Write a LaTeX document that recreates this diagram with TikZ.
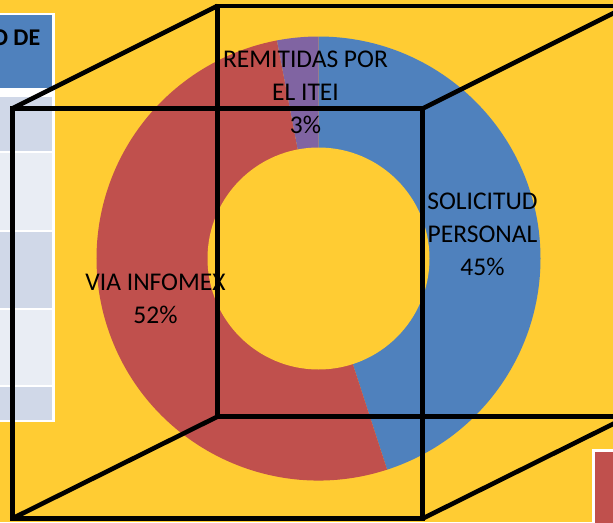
\documentclass[tikz,border=0pt]{standalone}
\usepackage{fontspec}
\setmainfont{Carlito}
\definecolor{bgyellow}{HTML}{FFCC33}
\definecolor{pieblue}{HTML}{4F81BD}
\definecolor{piered}{HTML}{C0504D}
\definecolor{piepurple}{HTML}{8064A2}
\definecolor{rowdark}{HTML}{D0D8E8}
\definecolor{rowlight}{HTML}{E9EDF4}
\begin{document}
\begin{tikzpicture}[x=1pt,y=-1pt,
  cubeline/.style={line width=4.6pt, black, line join=miter},
  lbl/.style={font=\fontsize{25.5}{33}\selectfont, align=center, inner sep=0pt, text=black}]
\useasboundingbox (0,0) rectangle (613,522);
\clip (0,0) rectangle (613,522);
\fill[bgyellow] (0,0) rectangle (613,522);
% table fragment
\fill[white] (-5,13) rectangle (54.5,422);
\fill[pieblue] (-5,15) rectangle (52,88);
\fill[rowdark] (-5,97) rectangle (52,150.5);
\fill[rowlight] (-5,152.5) rectangle (52,229.5);
\fill[rowdark] (-5,231.5) rectangle (52,307.5);
\fill[rowlight] (-5,309.5) rectangle (52,384.5);
\fill[rowdark] (-5,386.5) rectangle (52,420);
\node[lbl, font=\fontsize{24}{33}\selectfont\bfseries, anchor=base east] (hdr) at (40.5,45) {O DE};
% legend fragment
\fill[white] (592,449) rectangle (620,530);
\fill[piered] (595,452) rectangle (620,530);
% donut
\coordinate (c) at (318.5,258.5);
\fill[pieblue] (c) -- +(-90:222) arc[start angle=-90, end angle=72, radius=222] -- cycle;
\fill[piered] (c) -- +(72:222) arc[start angle=72, end angle=259.2, radius=222] -- cycle;
\fill[piepurple] (c) -- +(259.2:222) arc[start angle=259.2, end angle=270, radius=222] -- cycle;
\fill[bgyellow] (c) circle[radius=111];
% labels (base anchor = baseline of last line)
\node[lbl, anchor=base] (rem) at (305.5,133) {REMITIDAS POR\\EL ITEI\\3\%};
\node[lbl, anchor=base] (sol) at (482.5,275) {SOLICITUD\\PERSONAL\\45\%};
\node[lbl, anchor=base] (via) at (155.5,323) {VIA INFOMEX\\52\%};
% cube
\coordinate (f1) at (12.3,108.5);
\coordinate (f2) at (422.7,108.5);
\coordinate (f3) at (422.7,518.5);
\coordinate (f4) at (12.3,518.5);
\coordinate (b1) at (217.3,6);
\coordinate (b2) at (627.7,6);
\coordinate (b3) at (627.7,416.7);
\coordinate (b4) at (217.3,416.7);
\draw[cubeline] (f1) -- (f2) -- (f3) -- (f4) -- cycle;
\draw[cubeline] (b1) -- (b2) -- (b3) -- (b4) -- cycle;
\draw[cubeline] (f1) -- (b1);
\draw[cubeline] (f2) -- (b2);
\draw[cubeline] (f3) -- (b3);
\draw[cubeline] (f4) -- (b4);
\end{tikzpicture}
\end{document}
